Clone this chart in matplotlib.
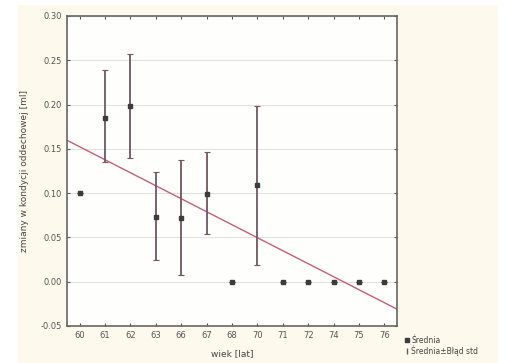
import numpy as np
import matplotlib
matplotlib.use("Agg")
import matplotlib.pyplot as plt
from matplotlib.lines import Line2D
from matplotlib.patches import Rectangle

ages = ["60", "61", "62", "63", "66", "67", "68", "70", "71", "72", "74", "75", "76"]
means = [0.100, 0.185, 0.198, 0.073, 0.072, 0.099, 0.000, 0.109, 0.000, 0.000, 0.000, 0.000, 0.000]
lower = [0.100, 0.135, 0.140, 0.025, 0.007, 0.054, 0.000, 0.019, 0.000, 0.000, 0.000, 0.000, 0.000]
upper = [0.100, 0.239, 0.257, 0.124, 0.137, 0.146, 0.000, 0.198, 0.000, 0.000, 0.000, 0.000, 0.000]
yticks = [-0.05, 0.00, 0.05, 0.10, 0.15, 0.20, 0.25, 0.30]
ylabels = ["-0.05", "0.00", "0.05", "0.10", "0.15", "0.20", "0.25", "0.30"]

fig = plt.figure(figsize=(5.15, 3.63), dpi=100)
fig.patch.set_facecolor("white")
fig.patches.append(Rectangle((0.035, 0.0), 0.932, 0.986, transform=fig.transFigure,
                             facecolor="#fdf9ec", edgecolor="none", zorder=-5))
ax = fig.add_axes([0.130, 0.102, 0.641, 0.854])
ax.set_zorder(1)
ax.set_facecolor("#fefefc")

x = np.arange(len(ages))
m = np.array(means)
yerr = np.vstack([m - np.array(lower), np.array(upper) - m])

ax.errorbar(x, m, yerr=yerr, fmt="s", color="#3c3c3c", ecolor="#6e5663",
            elinewidth=1.3, capsize=2, capthick=0.8, markersize=3.2, zorder=3)

coef = np.polyfit(x, m, 1)
xl = np.array([-0.5, len(ages) - 0.5])
ax.plot(xl, np.polyval(coef, xl), color="#c06078", lw=1.0, zorder=2)

ax.set_xlim(-0.5, len(ages) - 0.5)
ax.set_ylim(-0.05, 0.30)
ax.set_xticks(x)
ax.set_xticklabels(ages)
ax.set_yticks(yticks)
ax.set_yticklabels(ylabels)
ax.tick_params(axis="both", labelsize=6, colors="#555555", length=2.5, direction="in",
               top=True, right=True)
ax.grid(axis="y", color="#e2e2e2", lw=0.8)
ax.set_axisbelow(True)
for s in ax.spines.values():
    s.set_color("#666666")
    s.set_linewidth(1.2)

ax.set_xlabel("wiek [lat]", fontsize=6.5, color="#444444", labelpad=4)
ax.xaxis.set_label_coords(0.5, -0.075)
ax.set_ylabel("zmiany w kondycji oddechowej [ml]", fontsize=6.5, color="#444444")
ax.yaxis.set_label_coords(-0.115, 0.5)

handles = [Line2D([], [], marker="s", color="#3c3c3c", ls="none", markersize=2.5),
           Line2D([], [], marker="|", color="#6e5663", ls="none", markersize=5)]
fig.legend(handles, ["Średnia", "Średnia±Błąd std"], loc="lower left",
           bbox_to_anchor=(0.775, 0.005), frameon=False, fontsize=5.5,
           handlelength=0.6, handletextpad=0.3, labelspacing=0.1, borderpad=0.2,
           labelcolor="#444444")

fig.savefig("out.png", dpi=100)
